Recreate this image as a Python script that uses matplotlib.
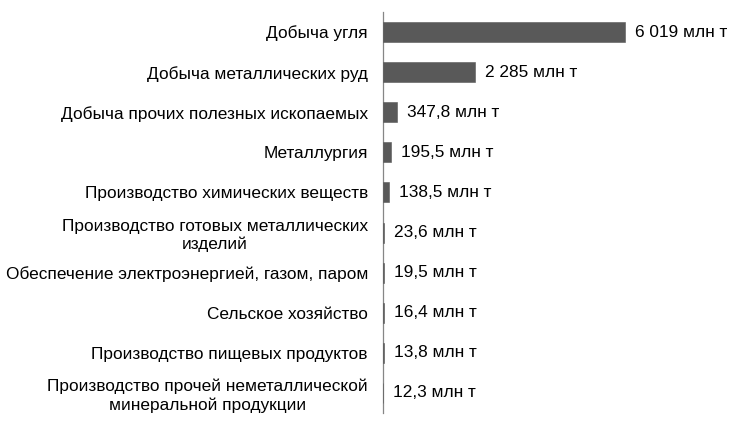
import matplotlib
matplotlib.use("Agg")
import matplotlib.pyplot as plt

categories = [
    "Добыча угля",
    "Добыча металлических руд",
    "Добыча прочих полезных ископаемых",
    "Металлургия",
    "Производство химических веществ",
    "Производство готовых металлических\nизделий",
    "Обеспечение электроэнергией, газом, паром",
    "Сельское хозяйство",
    "Производство пищевых продуктов",
    "Производство прочей неметаллической\nминеральной продукции",
]
values = [6019, 2285, 347.8, 195.5, 138.5, 23.6, 19.5, 16.4, 13.8, 12.3]
unit = "млн т"


def fmt(v):
    if v >= 1000:
        return f"{int(round(v)):,}".replace(",", " ") + " " + unit
    return f"{v:.1f}".replace(".", ",") + " " + unit


plt.rcParams["font.family"] = ["Liberation Sans", "DejaVu Sans"]
FS = 12.45

W, H = 742, 425
fig = plt.figure(figsize=(W / 100, H / 100), dpi=100)
left_px, right_px = 383, 735
top_px, bot_px = 12, 413
ax = fig.add_axes([left_px / W, 1 - bot_px / H, (right_px - left_px) / W, (bot_px - top_px) / H])

n = len(categories)
ypos = list(range(n))
ax.barh(ypos, values, height=0.5, color="#595959", edgecolor="#595959",
        linewidth=0.4, zorder=3)
ax.set_ylim(n - 0.5, -0.5)
scale = 242 / 6019  # px per unit
ax.set_xlim(0, (right_px - left_px) / scale)

ax.set_yticks(ypos)
ax.set_yticklabels(categories, fontsize=FS, color="black", linespacing=1.25,
                   multialignment="center")
ax.tick_params(axis="y", length=0, pad=10.8)
ax.set_xticks([])

for s in ["top", "right", "bottom"]:
    ax.spines[s].set_visible(False)
ax.spines["left"].set_color("#868686")
ax.spines["left"].set_linewidth(0.9)

for y, v in zip(ypos, values):
    ax.annotate(fmt(v), xy=(v, y), xytext=(10, 0), textcoords="offset pixels",
                va="center", ha="left", fontsize=FS, color="black")

fig.savefig("out.png", dpi=100)
